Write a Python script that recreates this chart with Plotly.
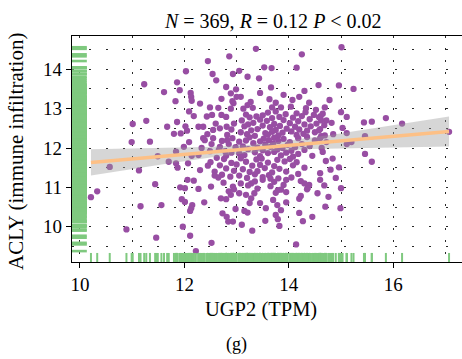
import numpy as np
import plotly.graph_objects as go

# ---- data (UGP2 TPM vs ACLY immune infiltration) ----
ugp2_left = [12.03, 11.23, 11.86, 11.91, 11.61, 12.12, 12.13, 12.14, 11.83, 12.30, 12.09, 12.18, 11.01, 11.27,
             11.67, 11.86, 12.02, 12.05, 11.80, 11.93, 12.27, 10.99, 11.34, 11.99, 12.09, 12.36, 12.33, 11.84,
             11.49, 10.57, 11.13, 11.70, 11.84, 11.87, 12.07, 12.14, 12.27, 12.30, 10.33, 10.21, 11.44, 11.92,
             12.01, 12.06, 12.18, 12.27, 11.95, 12.01, 12.15, 12.13, 12.11, 11.16, 11.56, 12.38, 10.89, 11.97,
             11.46, 12.11, 12.22, 12.52, 12.51, 12.70, 12.73, 12.81, 12.84]
acly_left = [13.95, 13.62, 13.67, 13.47, 13.42, 13.40, 13.30, 13.20, 13.19, 13.13, 12.93, 12.81, 12.61, 12.69,
             12.54, 12.66, 12.55, 12.44, 12.36, 12.37, 12.54, 12.15, 12.16, 12.03, 12.15, 12.25, 12.00, 11.91,
             11.79, 11.52, 11.43, 11.65, 11.61, 11.50, 11.61, 11.80, 11.82, 11.44, 10.90, 10.75, 11.08, 11.00,
             10.98, 11.19, 11.17, 10.96, 10.70, 10.63, 10.55, 10.47, 10.40, 10.52, 10.55, 10.62, 9.93, 10.00,
             9.72, 9.77, 9.38, 9.59, 11.02, 10.72, 10.34, 10.25, 10.13]

ugp2_low = [12.93, 13.08, 13.28, 13.50, 13.72, 13.95, 14.23, 14.39, 14.60, 12.89, 13.05, 13.18, 13.34, 13.75,
            13.79, 14.23, 14.36, 14.76, 15.00, 13.56, 13.21, 13.75, 13.79, 13.82, 14.70, 14.99, 12.93, 13.30,
            14.27, 14.14]
acly_low = [11.02, 11.10, 11.10, 11.19, 11.14, 11.19, 11.16, 11.06, 11.19, 10.81, 10.85, 10.81, 10.85, 10.86,
            10.93, 10.78, 10.98, 10.76, 10.98, 10.47, 10.36, 10.30, 10.19, 10.02, 10.51, 10.47, 10.13, 9.90,
            10.14, 9.55]

ugp2_right = [15.01, 14.96, 15.24, 14.78, 14.69, 15.00, 15.11, 14.61, 14.82, 15.03, 15.11, 15.44, 15.59, 15.86,
              16.17, 14.69, 14.60, 15.11, 15.20, 15.46, 17.07, 14.63, 15.46, 15.59, 14.84, 14.71, 14.96, 14.60,
              14.90]
acly_right = [14.56, 13.59, 13.50, 13.22, 13.03, 12.91, 12.79, 12.81, 12.64, 12.51, 12.38, 12.65, 12.67, 12.76,
              12.62, 12.32, 12.25, 12.10, 12.15, 12.30, 12.41, 12.00, 11.85, 11.65, 11.73, 11.67, 11.51, 11.36,
              11.24]

ugp2_top = [13.37, 14.25, 13.53, 13.67, 14.15, 13.05, 12.93, 13.21, 13.43, 13.66, 14.57, 12.99, 13.08, 12.89,
            13.63, 14.07, 14.20, 14.39, 13.21, 13.85, 14.04, 14.33, 14.52, 12.86, 12.45, 12.54, 12.61, 12.71,
            12.92, 12.94, 13.27, 12.49, 12.65, 12.89, 13.13, 13.31, 13.68]
acly_top = [14.52, 14.38, 14.05, 14.03, 14.04, 13.96, 13.88, 13.81, 13.77, 13.54, 13.60, 13.49, 13.30, 13.39,
            13.24, 13.22, 13.30, 13.15, 13.09, 13.03, 13.05, 13.01, 12.97, 14.33, 14.21, 13.88, 13.72, 13.25,
            13.19, 13.14, 13.17, 13.03, 13.02, 13.00, 13.00, 13.02, 13.03]

ugp2_mid = [12.43, 12.53, 12.71, 12.80, 12.36, 12.55, 12.68, 12.81, 12.39, 12.55, 12.68, 12.82, 12.49, 12.78]
acly_mid = [12.80, 12.84, 12.84, 12.79, 12.54, 12.46, 12.50, 12.54, 12.20, 12.25, 12.03, 12.20, 11.92, 11.92]

ugp2_core = [13.60, 13.75, 14.15, 14.32, 14.65,
             13.18, 13.50, 13.94, 14.48,
             13.25, 13.38, 13.68, 13.82, 14.08, 14.25, 14.58,
             13.10, 13.45, 13.58, 13.90, 14.18, 14.40, 14.72,
             12.95, 13.22, 13.32, 13.72, 14.02, 14.30, 14.53,
             13.15, 13.50, 13.64, 13.83, 14.12, 14.42, 14.68,
             12.90, 13.28, 13.40, 13.75, 13.96, 14.20, 14.35, 14.60,
             13.08, 13.55, 13.68, 13.88, 14.05, 14.50,
             12.82, 13.20, 13.35, 13.60, 13.80, 14.15, 14.28, 14.62,
             12.92, 13.25, 13.52, 13.72, 13.90, 14.18, 14.35,
             12.72, 13.05, 13.18, 13.45, 13.62, 13.80, 14.02, 14.50,
             12.85, 13.32, 13.55, 13.70, 13.98, 14.25,
             12.98, 13.12, 13.40, 13.65, 13.88, 14.12, 14.40,
             12.66, 13.22, 13.50, 13.78, 14.05, 14.30,
             12.90, 13.05, 13.35, 13.60, 13.72, 13.95, 14.18,
             12.80, 13.15, 13.45, 13.85, 14.08, 14.45,
             12.76, 13.08, 13.38, 13.48, 13.78, 14.02,
             12.50, 12.90, 13.18, 13.60, 13.92, 14.15,
             12.68, 13.00, 13.30, 13.45, 13.72, 14.08,
             12.80, 13.12, 13.54, 13.82, 14.30,
             12.58, 12.95, 13.25, 13.40, 13.68, 13.95,
             12.72, 13.05, 13.35, 13.62, 14.18,
             12.65, 12.88, 13.20, 13.50, 13.80, 14.05,
             13.22, 13.65, 13.90,
             12.95, 13.40, 13.85,
             12.80, 13.28, 13.70, 14.20,
             13.45, 13.95,
             13.15, 13.85]
acly_core = [12.90, 12.93, 12.88, 12.91, 12.87,
             12.85, 12.83, 12.86, 12.84,
             12.78, 12.80, 12.76, 12.79, 12.77, 12.81, 12.78,
             12.70, 12.72, 12.69, 12.71, 12.68, 12.73, 12.70,
             12.62, 12.60, 12.64, 12.61, 12.63, 12.60, 12.62,
             12.55, 12.57, 12.53, 12.56, 12.54, 12.55, 12.58,
             12.47, 12.45, 12.48, 12.46, 12.49, 12.47, 12.44, 12.48,
             12.40, 12.38, 12.41, 12.39, 12.42, 12.40,
             12.33, 12.35, 12.31, 12.34, 12.32, 12.33, 12.36, 12.30,
             12.25, 12.27, 12.24, 12.26, 12.23, 12.25, 12.28,
             12.18, 12.16, 12.19, 12.17, 12.20, 12.18, 12.15, 12.19,
             12.10, 12.12, 12.09, 12.11, 12.08, 12.10,
             12.02, 12.04, 12.01, 12.03, 12.00, 12.02, 12.05,
             11.95, 11.97, 11.94, 11.96, 11.93, 11.95,
             11.88, 11.86, 11.89, 11.87, 11.90, 11.88, 11.85,
             11.80, 11.82, 11.79, 11.81, 11.78, 11.80,
             11.72, 11.74, 11.71, 11.73, 11.70, 11.72,
             11.64, 11.62, 11.65, 11.63, 11.66, 11.64,
             11.56, 11.58, 11.55, 11.57, 11.54, 11.56,
             11.48, 11.46, 11.49, 11.47, 11.50,
             11.40, 11.42, 11.39, 11.41, 11.38, 11.40,
             11.32, 11.30, 11.33, 11.31, 11.34,
             11.25, 11.27, 11.24, 11.26, 11.23, 11.25,
             11.05, 11.03, 11.06,
             10.95, 10.97, 10.94,
             10.70, 10.72, 10.68, 10.71,
             10.60, 10.62,
             10.40, 10.42]

ugp2_extra = [12.45, 12.58, 12.62, 12.52, 12.44, 12.60,
              14.65, 14.72, 14.58, 14.80, 14.68, 14.55, 14.85, 14.62,
              13.25, 13.78, 12.98, 14.20, 13.55, 14.45, 13.10,
              13.00, 13.45, 13.90, 14.30, 13.75, 12.80,
              13.35, 13.65, 14.30, 12.75, 13.95, 14.35, 12.85]
acly_extra = [11.55, 11.30, 11.75, 12.10, 12.35, 12.62,
              11.90, 12.15, 12.45, 11.45, 11.05, 10.85, 12.35, 12.70,
              10.60, 10.55, 10.45, 10.35, 10.15, 10.25, 10.05,
              13.30, 13.40, 13.35, 13.45, 13.15, 13.55,
              11.15, 11.22, 11.10, 11.12, 10.88, 10.95, 10.90]

x_ticks = [10, 12, 14, 16]
y_ticks = [10, 11, 12, 13, 14]
title_text = "<i>N</i> = 369, <i>R</i> = 0.12 <i>P</i> &lt; 0.02"
x_title = "UGP2 (TPM)"
y_title = "ACLY (immune infiltration)"
panel_tag = "(g)"

# ---- assemble ----
x = np.array(ugp2_left + ugp2_low + ugp2_right + ugp2_top + ugp2_mid + ugp2_core + ugp2_extra)
y = np.array(acly_left + acly_low + acly_right + acly_top + acly_mid + acly_core + acly_extra)

n = len(x)
b, a = np.polyfit(x, y, 1)
xs = np.linspace(x.min(), x.max(), 100)
yhat = a + b * xs
resid = y - (a + b * x)
s = np.sqrt(np.sum(resid ** 2) / (n - 2))
sxx = np.sum((x - x.mean()) ** 2)
se = s * np.sqrt(1.0 / n + (xs - x.mean()) ** 2 / sxx)
tq = 1.966
upper = yhat + tq * se
lower = yhat - tq * se

PURPLE = "#984EA3"
GREEN = "#7FC97F"
ORANGE = "#FDC086"
FONT = "Liberation Serif, Times New Roman, serif"
GRID = "#2a2a2a"

fig = go.Figure()
fig.add_trace(go.Scatter(x=x, y=y, mode="markers",
                         marker=dict(color=PURPLE, size=6.3, line=dict(width=0)),
                         hoverinfo="skip", showlegend=False))
fig.add_trace(go.Scatter(x=np.concatenate([xs, xs[::-1]]), y=np.concatenate([upper, lower[::-1]]),
                         mode="lines", fill="toself", fillcolor="rgba(153,153,153,0.4)",
                         line=dict(width=0), hoverinfo="skip", showlegend=False))
fig.add_trace(go.Scatter(x=xs, y=yhat, mode="lines", line=dict(color=ORANGE, width=3.5),
                         hoverinfo="skip", showlegend=False))

shapes = []
for xv in x:
    shapes.append(dict(type="line", xref="x", yref="y domain", x0=xv, x1=xv, y0=0, y1=0.04,
                       line=dict(color=GREEN, width=2)))
for yv in y:
    shapes.append(dict(type="line", xref="x domain", yref="y", x0=0, x1=0.038, y0=yv, y1=yv,
                       line=dict(color=GREEN, width=2.6)))

axis_common = dict(showline=True, linecolor="black", linewidth=1.3, ticks="outside", ticklen=5,
                   tickwidth=1.2, tickcolor="black", zeroline=False,
                   tickfont=dict(family=FONT, size=19, color="black"))

fig.update_layout(
    width=462, height=359,
    margin=dict(l=72, r=0, t=36, b=97),
    paper_bgcolor="white", plot_bgcolor="white",
    shapes=shapes,
    xaxis=dict(range=[9.847, 17.318], tickmode="array", tickvals=x_ticks, mirror=True,
               showgrid=True, gridcolor=GRID, gridwidth=1, griddash="2px,10px",
               minor=dict(tickmode="array", tickvals=[11, 13, 15, 17], showgrid=True, gridcolor=GRID,
                          gridwidth=1, griddash="2px,10px", ticks=""),
               **axis_common),
    yaxis=dict(range=[9.103, 14.846], tickmode="array", tickvals=y_ticks,
               showgrid=True, gridcolor=GRID, gridwidth=1, griddash="2px,15px",
               minor=dict(tickmode="array", tickvals=[9.5, 10.5, 11.5, 12.5, 13.5, 14.5], showgrid=True,
                          gridcolor=GRID, gridwidth=1, griddash="2px,15px", ticks=""),
               **axis_common),
    annotations=[
        dict(text=title_text, xref="paper", yref="paper", x=0.515, y=1.066, xanchor="center",
             yanchor="middle", showarrow=False, font=dict(family=FONT, size=20, color="black")),
        dict(text=x_title, xref="paper", yref="paper", x=0.485, y=-0.212, xanchor="center",
             yanchor="middle", showarrow=False, font=dict(family=FONT, size=20.5, color="black")),
        dict(text=y_title, xref="paper", yref="paper", x=-0.1436, y=0.491, xanchor="center",
             yanchor="middle", textangle=-90, showarrow=False, font=dict(family=FONT, size=21, color="black")),
        dict(text=panel_tag, xref="paper", yref="paper", x=0.423, y=-0.367, xanchor="center",
             yanchor="middle", showarrow=False, font=dict(family=FONT, size=18, color="black")),
    ],
)

fig.write_html("out.html")
